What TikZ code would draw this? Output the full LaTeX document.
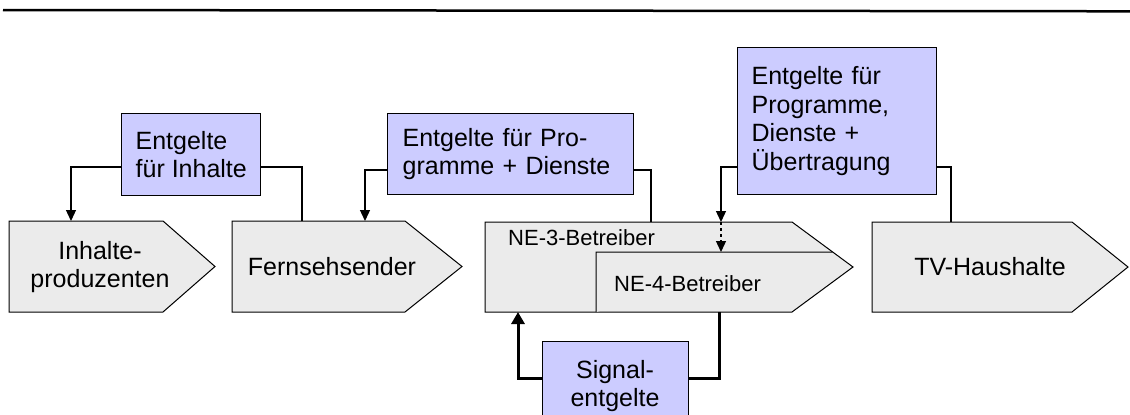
\documentclass[tikz,border=0pt]{standalone}
\usepackage{fontspec}
\setmainfont{Liberation Sans}
\usetikzlibrary{arrows.meta,calc}
\definecolor{boxblue}{HTML}{CCCCFF}
\definecolor{pentgray}{HTML}{EBEBEB}
\tikzset{
 bluebox/.style={draw=black, line width=1.3pt, fill=boxblue, inner xsep=14pt, inner ysep=0pt, align=left, anchor=north west, font=\fontsize{25}{28.75}\selectfont},
 pent/.style={draw=black, line width=1pt, fill=pentgray},
 lbl/.style={font=\fontsize{25}{28.75}\selectfont, inner sep=0pt, align=center},
 smalllbl/.style={font=\fontsize{22}{25}\selectfont, inner sep=0pt, anchor=west},
 conn/.style={draw=black, line width=1.3pt},
 arr/.style={conn, -{Triangle[length=11pt,width=10pt]}},
 thickconn/.style={draw=black, line width=3pt},
 thickarr/.style={thickconn, -{Triangle[length=12pt,width=13pt]}},
}
\begin{document}
\begin{tikzpicture}[x=1pt,y=-1pt]
\useasboundingbox (0,0) rectangle (1130,415);
\draw[line width=2.5pt] (3,10) -- (1130,11.3);

% pentagons
\draw[pent] (9,221) -- (163,221) -- (215,266.5) -- (163,312) -- (9,312) -- cycle;
\draw[pent] (232,221) -- (405,221) -- (462,266.5) -- (405,312) -- (232,312) -- cycle;
\draw[pent] (485,222) coordinate (ne3nw) -- (792,222) coordinate (ne3ne) -- (853,267) coordinate (ne3tip) -- (792,312) -- (485,312) -- cycle;
\draw[pent] (596,312) -- (596,252) -- ($(ne3ne)!0.6667!(ne3tip)$);
\draw[pent] (872,222) -- (1072,222) -- (1128,267) -- (1072,312) -- (872,312) -- cycle;

% connector end points on the pentagons
\coordinate (p1in) at (71,221);
\coordinate (p2a) at (302,221);
\coordinate (p2in) at (365,221);
\coordinate (ne3a) at (651,222);
\coordinate (ne3in) at (721,222);
\coordinate (ne4in) at (721,252);
\coordinate (tvin) at (951,222);
\coordinate (ne3b) at (518,312);
\coordinate (ne4b) at (719,312);
\coordinate (y1) at (0,167);
\coordinate (y2) at (0,170);
\coordinate (y4) at (0,378);

% labels
\node[lbl] (t1) at (100,267) {Inhalte-\\produzenten};
\node[lbl] (t2) at (332,266.5) {Fernsehsender};
\node[smalllbl] (t3) at (508,238) {NE-3-Betreiber};
\node[smalllbl] (t4) at (614,283.5) {NE-4-Betreiber};
\node[lbl] (t5) at (990,266.5) {TV-Haushalte};

% blue boxes
\node[bluebox, minimum width=138pt, minimum height=82pt] (b1) at (121,113) {Entgelte\\für Inhalte};
\node[bluebox, minimum height=81pt, text width=216pt, inner xsep=15pt] (b2) at (387,113) {Entgelte für Pro-\\gramme + Dienste};
\node[bluebox, minimum height=147pt, text width=171pt] (b3) at (737,47) {Entgelte für\\Programme,\\Dienste +\\Übertragung};
\node[bluebox, minimum width=146pt, minimum height=90pt] (b4) at (542,341) {};
\node[lbl] (b4t) at (615,386) {Signal-\\entgelte};

% connectors
\draw[arr] (b1.west |- y1) -| (p1in);
\draw[conn] (b1.east |- y1) -| (p2a);
\draw[arr] (b2.west |- y2) -| (p2in);
\draw[conn] (b2.east |- y2) -| (ne3a);
\draw[arr] (b3.west |- y1) -| (ne3in);
\draw[arr, dashed] (ne3in) -- (ne4in);
\draw[conn] (b3.east |- y1) -| (tvin);
\draw[thickarr] (b4.west |- y4) -| (ne3b);
\draw[thickconn] (b4.east |- y4) -| (ne4b);
\end{tikzpicture}
\end{document}
